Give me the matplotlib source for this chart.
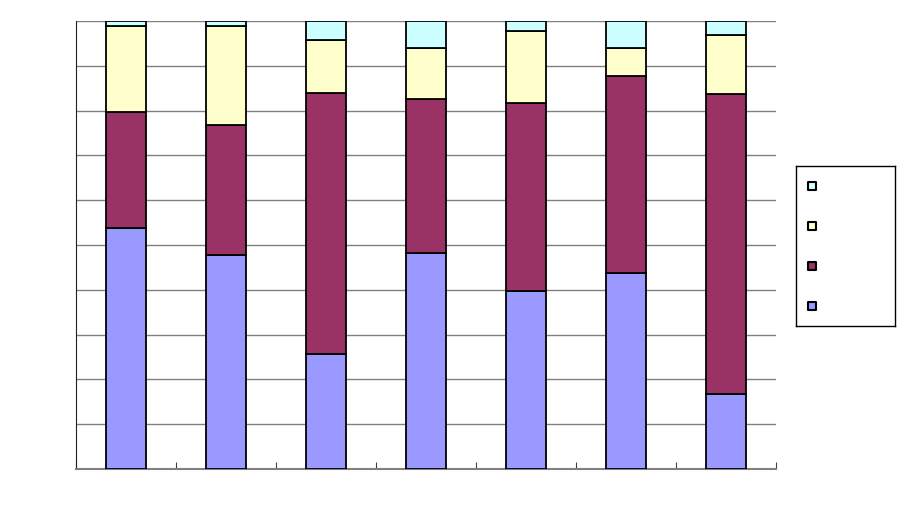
import matplotlib
matplotlib.use('Agg')
import matplotlib.pyplot as plt
import numpy as np

# percent shares per category (bottom to top)
categories = ['1', '2', '3', '4', '5', '6', '7']
blue = [53.8, 47.8, 25.7, 48.2, 39.7, 43.8, 16.7]
maroon = [25.9, 29.0, 58.2, 34.4, 42.0, 43.9, 67.0]
yellow = [19.2, 22.1, 11.9, 11.4, 16.1, 6.3, 13.2]
cyan = [1.1, 1.1, 4.2, 6.0, 2.2, 6.0, 3.1]

series = [blue, maroon, yellow, cyan]
colors = ['#9999FF', '#993366', '#FFFFCC', '#CCFFFF']


def main():
    fig = plt.figure(figsize=(9.05, 5.23), dpi=100)
    ax = fig.add_axes([76/905, 54/523, 700/905, 448/523])

    x = np.arange(len(categories))
    bottom = np.zeros(len(categories))
    for vals, col in zip(series, colors):
        ax.bar(x, vals, width=0.4, bottom=bottom, color=col,
               edgecolor='black', linewidth=1.3, zorder=3)
        bottom = bottom + np.array(vals)

    ax.set_xlim(-0.5, len(categories) - 0.5)
    ax.set_ylim(0, 100)
    ax.set_yticks(np.arange(0, 101, 10))
    ax.yaxis.grid(True, color='#808080', linewidth=1, zorder=0)
    ax.set_yticklabels([])
    ax.tick_params(axis='y', length=0)
    ax.set_xticks(np.arange(-0.5, len(categories), 1.0))
    ax.set_xticklabels([])
    ax.tick_params(axis='x', direction='in', length=5, color='#404040')

    for s in ['top', 'right']:
        ax.spines[s].set_visible(False)
    ax.spines['left'].set_color('#202020')
    ax.spines['bottom'].set_color('#808080')
    ax.spines['bottom'].set_linewidth(1.5)

    # legend box without text
    lax = fig.add_axes([796/905, (523-326)/523, 99/905, 160/523])
    lax.set_xlim(0, 99)
    lax.set_ylim(160, 0)
    lax.set_xticks([])
    lax.set_yticks([])
    for s in lax.spines.values():
        s.set_color('black')
        s.set_linewidth(1)
    for i, col in enumerate(reversed(colors)):
        lax.scatter([16], [20 + 40*i], marker='s', s=30, color=col,
                    edgecolor='black', linewidth=1.5)

    fig.savefig('out.png', dpi=100)


if __name__ == '__main__':
    main()
